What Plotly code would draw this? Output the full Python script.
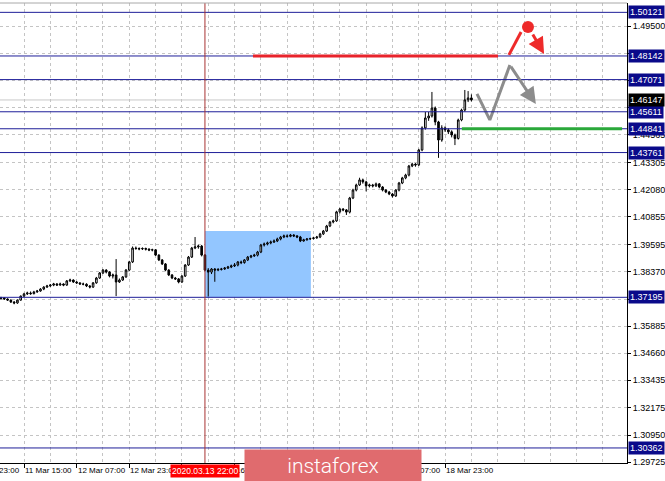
import plotly.graph_objects as go

# ---------------- data (H1 bars, bar index 0 = 11 Mar 15:00) ----------------
bars = list(range(-7, 137))

opens = [
    1.3714, 1.3717, 1.3712, 1.3707, 1.3698, 1.3694, 1.3707, 1.3725, 1.3735, 1.3739,
    1.3736, 1.3744, 1.3748, 1.3757, 1.3766, 1.3771, 1.3775, 1.3780, 1.3775, 1.3780,
    1.3775, 1.3794, 1.3798, 1.3789, 1.3785, 1.3780, 1.3779, 1.3771, 1.3766, 1.3785,
    1.3807, 1.3830, 1.3843, 1.3834, 1.3816, 1.3821, 1.3789, 1.3798, 1.3812, 1.3843,
    1.3880, 1.3943, 1.3941, 1.3939, 1.3941, 1.3938, 1.3934, 1.3935, 1.3911, 1.3889,
    1.3871, 1.3843, 1.3821, 1.3807, 1.3803, 1.3789, 1.3816, 1.3866, 1.3902, 1.3943,
    1.3948, 1.3952, 1.3911, 1.3843, 1.3834, 1.3848, 1.3843, 1.3846, 1.3848, 1.3852,
    1.3857, 1.3862, 1.3866, 1.3880, 1.3877, 1.3889, 1.3902, 1.3907, 1.3911, 1.3925,
    1.3957, 1.3961, 1.3966, 1.3970, 1.3975, 1.3984, 1.3993, 1.3998, 1.3996, 1.4002,
    1.3998, 1.3993, 1.3975, 1.3980, 1.3984, 1.3986, 1.3989, 1.3993, 1.4007, 1.4020,
    1.4043, 1.4061, 1.4066, 1.4107, 1.4120, 1.4116, 1.4106, 1.4170, 1.4206, 1.4229,
    1.4252, 1.4243, 1.4225, 1.4229, 1.4225, 1.4234, 1.4220, 1.4206, 1.4197, 1.4188,
    1.4179, 1.4206, 1.4238, 1.4261, 1.4274, 1.4315, 1.4324, 1.4320, 1.4388, 1.4488,
    1.4533, 1.4542, 1.4578, 1.4515, 1.4433, 1.4488, 1.4479, 1.4470, 1.4456, 1.4440,
    1.4524, 1.4569, 1.4615, 1.4624,
]
highs = [
    1.3722, 1.3720, 1.3715, 1.3710, 1.3703, 1.3710, 1.3728, 1.3740, 1.3745, 1.3746,
    1.3749, 1.3753, 1.3761, 1.3770, 1.3776, 1.3780, 1.3785, 1.3784, 1.3786, 1.3783,
    1.3798, 1.3804, 1.3801, 1.3793, 1.3788, 1.3786, 1.3783, 1.3775, 1.3789, 1.3812,
    1.3834, 1.3848, 1.3847, 1.3838, 1.3827, 1.3893, 1.3805, 1.3816, 1.3848, 1.3885,
    1.3950, 1.3950, 1.3946, 1.3946, 1.3945, 1.3942, 1.3940, 1.3938, 1.3915, 1.3893,
    1.3875, 1.3847, 1.3825, 1.3812, 1.3807, 1.3820, 1.3870, 1.3907, 1.3948, 1.3993,
    1.3958, 1.3957, 1.3916, 1.3852, 1.3852, 1.3852, 1.3852, 1.3853, 1.3857, 1.3862,
    1.3868, 1.3875, 1.3884, 1.3886, 1.3893, 1.3907, 1.3912, 1.3917, 1.3930, 1.3962,
    1.3968, 1.3972, 1.3977, 1.3982, 1.3990, 1.3998, 1.4004, 1.4005, 1.4007, 1.4006,
    1.4002, 1.3998, 1.3985, 1.3988, 1.3990, 1.3994, 1.3998, 1.4012, 1.4025, 1.4048,
    1.4066, 1.4072, 1.4112, 1.4125, 1.4124, 1.4120, 1.4175, 1.4212, 1.4235, 1.4262,
    1.4258, 1.4248, 1.4235, 1.4234, 1.4240, 1.4238, 1.4224, 1.4210, 1.4202, 1.4193,
    1.4210, 1.4243, 1.4266, 1.4280, 1.4320, 1.4330, 1.4328, 1.4393, 1.4495, 1.4560,
    1.4560, 1.4651, 1.4585, 1.4520, 1.4500, 1.4495, 1.4486, 1.4477, 1.4462, 1.4530,
    1.4575, 1.4660, 1.4655, 1.4640,
]
lows = [
    1.3710, 1.3708, 1.3703, 1.3694, 1.3688, 1.3690, 1.3704, 1.3721, 1.3730, 1.3731,
    1.3733, 1.3740, 1.3745, 1.3752, 1.3762, 1.3767, 1.3770, 1.3771, 1.3772, 1.3770,
    1.3772, 1.3789, 1.3785, 1.3780, 1.3776, 1.3774, 1.3766, 1.3760, 1.3762, 1.3781,
    1.3803, 1.3825, 1.3828, 1.3810, 1.3805, 1.3725, 1.3785, 1.3794, 1.3808, 1.3838,
    1.3875, 1.3935, 1.3933, 1.3934, 1.3932, 1.3929, 1.3928, 1.3907, 1.3884, 1.3866,
    1.3838, 1.3816, 1.3802, 1.3798, 1.3783, 1.3785, 1.3812, 1.3862, 1.3898, 1.3938,
    1.3940, 1.3905, 1.3838, 1.3723, 1.3825, 1.3790, 1.3838, 1.3841, 1.3844, 1.3848,
    1.3852, 1.3857, 1.3860, 1.3870, 1.3872, 1.3884, 1.3897, 1.3903, 1.3905, 1.3920,
    1.3950, 1.3955, 1.3960, 1.3966, 1.3970, 1.3978, 1.3988, 1.3990, 1.3992, 1.3993,
    1.3988, 1.3970, 1.3972, 1.3977, 1.3980, 1.3982, 1.3985, 1.3988, 1.4002, 1.4016,
    1.4038, 1.4055, 1.4062, 1.4100, 1.4110, 1.4093, 1.4100, 1.4165, 1.4200, 1.4225,
    1.4235, 1.4200, 1.4218, 1.4218, 1.4220, 1.4214, 1.4200, 1.4192, 1.4183, 1.4172,
    1.4175, 1.4200, 1.4233, 1.4255, 1.4268, 1.4310, 1.4312, 1.4315, 1.4382, 1.4480,
    1.4520, 1.4535, 1.4500, 1.4352, 1.4425, 1.4470, 1.4460, 1.4445, 1.4410, 1.4435,
    1.4518, 1.4562, 1.4605, 1.4608,
]
closes = [
    1.3717, 1.3712, 1.3707, 1.3698, 1.3694, 1.3707, 1.3725, 1.3735, 1.3739, 1.3736,
    1.3744, 1.3748, 1.3757, 1.3766, 1.3771, 1.3775, 1.3780, 1.3775, 1.3780, 1.3775,
    1.3794, 1.3798, 1.3789, 1.3785, 1.3780, 1.3779, 1.3771, 1.3766, 1.3785, 1.3807,
    1.3830, 1.3843, 1.3834, 1.3816, 1.3821, 1.3789, 1.3798, 1.3812, 1.3843, 1.3880,
    1.3943, 1.3941, 1.3939, 1.3941, 1.3938, 1.3934, 1.3935, 1.3911, 1.3889, 1.3871,
    1.3843, 1.3821, 1.3807, 1.3803, 1.3789, 1.3816, 1.3866, 1.3902, 1.3943, 1.3948,
    1.3952, 1.3911, 1.3843, 1.3834, 1.3848, 1.3843, 1.3846, 1.3848, 1.3852, 1.3857,
    1.3862, 1.3866, 1.3880, 1.3877, 1.3889, 1.3902, 1.3907, 1.3911, 1.3925, 1.3957,
    1.3961, 1.3966, 1.3970, 1.3975, 1.3984, 1.3993, 1.3998, 1.3996, 1.4002, 1.3998,
    1.3993, 1.3975, 1.3980, 1.3984, 1.3986, 1.3989, 1.3993, 1.4007, 1.4020, 1.4043,
    1.4061, 1.4066, 1.4107, 1.4120, 1.4116, 1.4106, 1.4170, 1.4206, 1.4229, 1.4252,
    1.4243, 1.4225, 1.4229, 1.4225, 1.4234, 1.4220, 1.4206, 1.4197, 1.4188, 1.4179,
    1.4206, 1.4238, 1.4261, 1.4274, 1.4315, 1.4324, 1.4320, 1.4388, 1.4488, 1.4533,
    1.4542, 1.4578, 1.4515, 1.4433, 1.4488, 1.4479, 1.4470, 1.4456, 1.4440, 1.4524,
    1.4569, 1.4615, 1.4624, 1.4615,
]

level_prices = [1.50121, 1.48142, 1.47071, 1.45611, 1.44841, 1.43761, 1.37195, 1.30362]
bid_price = 1.46147

ytick_vals = [1.29725, 1.30950, 1.32175, 1.33435, 1.34660, 1.35885, 1.37110, 1.38370,
              1.39595, 1.40855, 1.42080, 1.43305, 1.44565, 1.45790, 1.47015, 1.48275, 1.49500]
ytick_text = ["1.29725", "1.30950", "1.32175", "1.33435", "1.34660", "1.35885", "",
              "1.38370", "1.39595", "1.40855", "1.42080", "1.43305", "1.44565", "", "", "", "1.49500"]

# time-axis tick marks every 16 bars; labels only where the reference shows them
xtick_bars = [-16, 0, 16, 32, 48, 64, 80, 96, 112, 128]
xlabel_bars = [-16, 0, 16, 32, 64, 112, 128]
xlabel_text = ["10 Mar 23:00", "11 Mar 15:00", "12 Mar 07:00", "12 Mar 23:00",
               "16 Mar 07:00", "18 Mar 07:00", "18 Mar 23:00"]

marker_bar = 55
marker_text = "2020.03.13 22:00"

# analysis drawings (bar index, price)
zone_bars = [55, 87.2]
zone_prices = [1.37195, 1.4020]
sell_level_bars = [69.6, 144.1]
sell_level_price = 1.48142
buy_level_bars = [133.1, 181.8]
buy_level_price = 1.44841
red_path_bars = [147.4, 151.1]
red_path_prices = [1.4819, 1.4923]
red_dot_bar = [153.2]
red_dot_price = [1.4946]
red_arrow_bars = [154.4, 158.1]
red_arrow_prices = [1.4918, 1.4823]
grey_path_bars = [137.7, 141.6, 147.7]
grey_path_prices = [1.4642, 1.4524, 1.4773]
grey_arrow_bars = [147.7, 155.6]
grey_arrow_prices = [1.4773, 1.4596]

X_RANGE = [-7.3, 183.3]
Y_RANGE = [1.2968, 1.50545]

FONT = "Liberation Sans, Arial, sans-serif"
NAVY = "#1f1f99"
GRID = "#c4c4c4"

fig = go.Figure()

fig.add_trace(go.Candlestick(
    x=bars, open=opens, high=highs, low=lows, close=closes,
    increasing=dict(line=dict(color="black", width=1), fillcolor="white"),
    decreasing=dict(line=dict(color="black", width=1), fillcolor="black"),
    whiskerwidth=0, hoverinfo="skip", showlegend=False,
))

fig.add_trace(go.Scatter(x=grey_path_bars, y=grey_path_prices, mode="lines",
                         line=dict(color="#8c8c8c", width=3), hoverinfo="skip", showlegend=False))
fig.add_trace(go.Scatter(x=red_path_bars, y=red_path_prices, mode="lines",
                         line=dict(color="#ee2a2a", width=3), hoverinfo="skip", showlegend=False))
fig.add_trace(go.Scatter(x=red_dot_bar, y=red_dot_price, mode="markers",
                         marker=dict(color="#ee2a2a", size=12), hoverinfo="skip", showlegend=False))

shapes = []
shapes.append(dict(type="rect", xref="x", yref="y", x0=zone_bars[0], x1=zone_bars[1],
                   y0=zone_prices[0], y1=zone_prices[1], fillcolor="#93c6ff",
                   line=dict(width=0), layer="between"))
shapes.append(dict(type="line", xref="paper", yref="y", x0=0, x1=1, y0=bid_price, y1=bid_price,
                   line=dict(color="#c8c8c8", width=1), layer="between"))
for p in level_prices:
    shapes.append(dict(type="line", xref="paper", yref="y", x0=0, x1=1, y0=p, y1=p,
                       line=dict(color=NAVY, width=1), layer="above"))
shapes.append(dict(type="line", xref="x", yref="paper", x0=marker_bar, x1=marker_bar, y0=0, y1=1,
                   line=dict(color="#a83232", width=1), layer="above"))
shapes.append(dict(type="line", xref="x", yref="y", x0=sell_level_bars[0], x1=sell_level_bars[1],
                   y0=sell_level_price, y1=sell_level_price, line=dict(color="#e8232b", width=3), layer="above"))
shapes.append(dict(type="line", xref="x", yref="y", x0=buy_level_bars[0], x1=buy_level_bars[1],
                   y0=buy_level_price, y1=buy_level_price, line=dict(color="#2aa83a", width=3), layer="above"))
shapes.append(dict(type="line", xref="paper", yref="paper", x0=0, x1=1, y0=1, y1=1,
                   line=dict(color="#a8a8a8", width=1), layer="above"))

annotations = []


def xpaper(b):
    return (b - X_RANGE[0]) / (X_RANGE[1] - X_RANGE[0])


for b, t in zip(xlabel_bars, xlabel_text):
    annotations.append(dict(xref="paper", yref="paper", x=xpaper(b), y=0, xanchor="left", yanchor="top",
                            text=t, showarrow=False, font=dict(family=FONT, size=8, color="black"),
                            xshift=-1, yshift=-1))
annotations.append(dict(xref="x", yref="paper", x=marker_bar, y=0, xanchor="center", yanchor="top",
                        text=marker_text, showarrow=False, bgcolor="#ff0000", borderpad=1,
                        font=dict(family=FONT, size=8.5, color="white"), yshift=-1))
for p in level_prices:
    annotations.append(dict(xref="paper", yref="y", x=1, y=p, xanchor="left", yanchor="middle",
                            text=f"{p:.5f}", showarrow=False, bgcolor="#0a0a8a", borderpad=1,
                            font=dict(family=FONT, size=9, color="white"), xshift=1))
annotations.append(dict(xref="paper", yref="y", x=1, y=bid_price, xanchor="left", yanchor="middle",
                        text=f"{bid_price:.5f}", showarrow=False, bgcolor="#000000", borderpad=1,
                        font=dict(family=FONT, size=9, color="white"), xshift=1))
annotations.append(dict(xref="x", yref="y", axref="x", ayref="y",
                        x=red_arrow_bars[1], y=red_arrow_prices[1], ax=red_arrow_bars[0], ay=red_arrow_prices[0],
                        text="", showarrow=True, arrowhead=2, arrowsize=1.1, arrowwidth=3, arrowcolor="#ee2a2a"))
annotations.append(dict(xref="x", yref="y", axref="x", ayref="y",
                        x=grey_arrow_bars[1], y=grey_arrow_prices[1], ax=grey_arrow_bars[0], ay=grey_arrow_prices[0],
                        text="", showarrow=True, arrowhead=2, arrowsize=1.1, arrowwidth=3, arrowcolor="#8c8c8c"))
# logo badge (drawn last so it covers the axis labels beneath it)
annotations.append(dict(xref="paper", yref="paper", x=0.5311, y=-0.0054, xanchor="center", yanchor="middle",
                        text="instaforex", showarrow=False, bgcolor="#e06b6e", borderpad=0,
                        width=176, height=31, align="center", valign="middle",
                        font=dict(family="Roboto, Lato, sans-serif", size=21, color="white", weight=300)))

fig.update_layout(
    width=665, height=481, autosize=False,
    margin=dict(l=0, r=38, t=3, b=18, autoexpand=False),
    paper_bgcolor="white", plot_bgcolor="white",
    showlegend=False, hovermode=False,
    shapes=shapes, annotations=annotations,
    xaxis=dict(
        range=X_RANGE, rangeslider=dict(visible=False), fixedrange=True, automargin=False,
        tickmode="array", tickvals=xtick_bars, showticklabels=False,
        ticks="outside", ticklen=4, tickcolor="black",
        showgrid=True, gridcolor=GRID, griddash="3px,3px", gridwidth=1,
        minor=dict(tick0=0, dtick=8, showgrid=True, gridcolor=GRID, griddash="3px,3px", ticks=""),
        showline=True, linecolor="black", linewidth=1, zeroline=False,
    ),
    yaxis=dict(
        range=Y_RANGE, side="right", fixedrange=True, automargin=False,
        tickmode="array", tickvals=ytick_vals, ticktext=ytick_text,
        ticks="outside", ticklen=3, tickcolor="black",
        tickfont=dict(family=FONT, size=9, color="black"),
        showgrid=True, gridcolor=GRID, griddash="3px,3px", gridwidth=1,
        showline=True, linecolor="black", linewidth=1, zeroline=False,
    ),
)

fig.write_html("out.html", config={"displayModeBar": False, "staticPlot": True},
               post_script="document.body.style.margin='0';document.body.style.overflow='hidden';")
